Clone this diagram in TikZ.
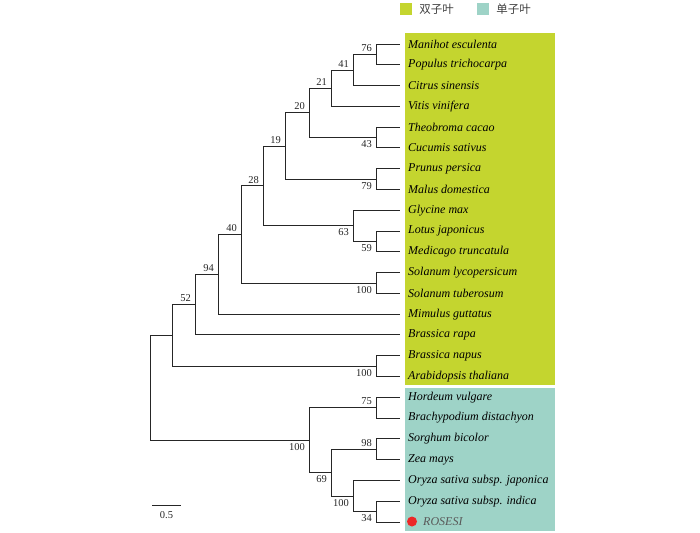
\documentclass[tikz,border=0pt]{standalone}
\usepackage{fontspec}
\setmainfont{Liberation Serif}
\newfontfamily\cjk{Noto Sans CJK SC}
\usepackage{tikz}
\definecolor{dicot}{RGB}{196,213,47}
\definecolor{monocot}{RGB}{158,211,199}
\definecolor{dotred}{RGB}{236,40,40}

\begin{document}
\begin{tikzpicture}[x=1bp,y=-1bp]

\tikzset{branch/.style={draw=black!85, line width=0.9bp},
  leaf/.style={anchor=west, inner sep=0pt, xshift=8bp,
    font=\fontsize{12bp}{14bp}\selectfont\itshape},
  boot/.style={inner sep=1pt, text=black!85,
    font=\fontsize{10.5bp}{12bp}\selectfont},
  boot above/.style={boot, anchor=south east, xshift=-3bp, yshift=1.5bp},
  boot below/.style={boot, anchor=north east, xshift=-3bp, yshift=-2bp},
  legsq/.style={minimum size=12bp, inner sep=0pt},
  legtext/.style={anchor=west, inner sep=0pt, xshift=7bp, text=black!75,
    font=\fontsize{11.5bp}{13bp}\selectfont\cjk}
}

\useasboundingbox (0,0) rectangle (700,533);

\fill[dicot] (405,33) rectangle (555,385);
\fill[monocot] (405,388) rectangle (555,531);

% legend
\node[legsq, fill=dicot] (keyD) at (406,9.5) {};
\node[legtext] (keyDtext) at (keyD.east) {双子叶};
\node[legsq, fill=monocot] (keyM) at (483,9.5) {};
\node[legtext] (keyMtext) at (keyM.east) {单子叶};

% leaves
\foreach \name [count=\i] in {Manihot esculenta, Populus trichocarpa,
  Citrus sinensis, Vitis vinifera, Theobroma cacao, Cucumis sativus,
  Prunus persica, Malus domestica, Glycine max, Lotus japonicus,
  Medicago truncatula, Solanum lycopersicum, Solanum tuberosum,
  Mimulus guttatus, Brassica rapa, Brassica napus, Arabidopsis thaliana,
  Hordeum vulgare, Brachypodium distachyon, Sorghum bicolor, Zea mays,
  Oryza sativa subsp. japonica, Oryza sativa subsp. indica}
{
  \coordinate (t\i) at (400,{44+20.78*(\i-1)});
  \node[leaf] (leaf\i) at (t\i) {\name};
}
\coordinate (t24) at (400,522);
\node[circle, fill=dotred, minimum size=10bp, inner sep=0pt] (rosdot) at (412,521.5) {};
\node[leaf, xshift=15bp, text=black!65] (leaf24) at (t24) {ROSESI};

% internal nodes
\coordinate (n76) at (376,54.4);
\coordinate (n41) at (353,70);
\coordinate (n21) at (331,88.2);
\coordinate (n43) at (376,137.5);
\coordinate (n20) at (309,112.8);
\coordinate (n79) at (376,179.1);
\coordinate (n19) at (285,146);
\coordinate (n59) at (376,241.4);
\coordinate (n63) at (353,225.8);
\coordinate (n28) at (263,185.9);
\coordinate (nsol) at (376,283);
\coordinate (n40) at (241,234.5);
\coordinate (n94) at (218,274.3);
\coordinate (n52) at (195,304.6);
\coordinate (nbra) at (376,366.1);
\coordinate (ndicot) at (172,335.4);
\coordinate (n75) at (376,407.7);
\coordinate (n98) at (376,449.2);
\coordinate (n34) at (376,511.6);
\coordinate (nory) at (353,496);
\coordinate (n69) at (331,472.6);
\coordinate (nmono) at (309,440.2);
\coordinate (root) at (150,387.8);

% branches
\foreach \p/\c in {n76/t1, n76/t2, n41/n76, n41/t3, n21/n41, n21/t4,
  n43/t5, n43/t6, n20/n21, n20/n43, n79/t7, n79/t8, n19/n20, n19/n79,
  n59/t10, n59/t11, n63/t9, n63/n59, n28/n19, n28/n63, nsol/t12, nsol/t13,
  n40/n28, n40/nsol, n94/n40, n94/t14, n52/n94, n52/t15, nbra/t16, nbra/t17,
  ndicot/n52, ndicot/nbra, n75/t18, n75/t19, n98/t20, n98/t21,
  n34/t23, n34/t24, nory/t22, nory/n34, n69/n98, n69/nory,
  nmono/n75, nmono/n69, root/ndicot, root/nmono}
  \draw[branch] (\p) |- (\c);

% bootstrap values
\foreach \n/\v in {n76/76, n41/41, n21/21, n20/20, n19/19, n28/28,
  n40/40, n94/94, n52/52, n75/75, n98/98}
  \node[boot above] (b\n) at (\n) {\v};
\foreach \n/\v in {n43/43, n79/79, n59/59, n63/63, nsol/100, nbra/100,
  n34/34, nory/100, n69/69, nmono/100}
  \node[boot below] (b\n) at (\n) {\v};

% scale bar
\coordinate (sbL) at (152,505);
\coordinate (sbR) at (181,505);
\draw[branch] (sbL) -- (sbR);
\node[boot] (sbtext) at (166.5,515) {0.5};

\end{tikzpicture}
\end{document}
